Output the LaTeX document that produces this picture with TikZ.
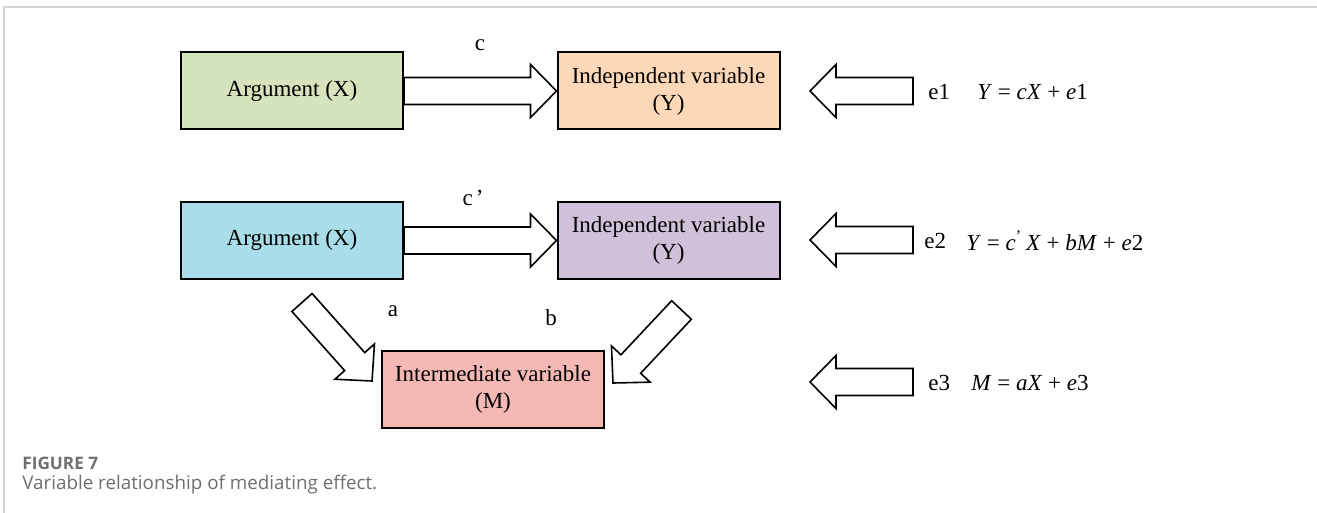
\documentclass[tikz,border=0pt]{standalone}
\usepackage{fontspec}
\setmainfont{Liberation Serif}
\newfontfamily\capfont{Open Sans}
\usetikzlibrary{calc}
\definecolor{cgreen}{HTML}{D6E4BE}
\definecolor{cpeach}{HTML}{FDD8B8}
\definecolor{ccyan}{HTML}{A8DDE9}
\definecolor{clilac}{HTML}{D0C1DB}
\definecolor{cpink}{HTML}{F4B8B5}
\definecolor{framegray}{HTML}{D2D2D2}
\definecolor{capgray}{HTML}{6E6E6E}
\newcommand{\blockarrow}[2]{%
  \coordinate (bh) at ($(#2)!13pt!(#1)$);
  \draw[blk] ($(#1)!6.75pt!90:(#2)$) -- ($(bh)!6.75pt!90:(#2)$) -- ($(bh)!13.25pt!90:(#2)$) -- (#2)
    -- ($(bh)!13.25pt!-90:(#2)$) -- ($(bh)!6.75pt!-90:(#2)$) -- ($(#1)!6.75pt!-90:(#2)$) -- cycle;}
\begin{document}
\begin{tikzpicture}[x=0.5pt,y=-0.5pt,
  box/.style={draw=black,line width=1pt,minimum width=111pt,minimum height=38.5pt,inner sep=0pt,align=center,font=\fontsize{11.5}{13.5}\selectfont},
  blk/.style={draw=black,line width=0.8pt,fill=white,line join=miter},
  lbl/.style={font=\fontsize{11.5}{13.5}\selectfont,inner sep=0pt}]
\useasboundingbox (0,0) rectangle (1317,513);
\draw[framegray,line width=1pt] (4,513) -- (4,7.5) -- (1317,7.5);
% boxes
\node[box,fill=cgreen] (x1) at (292,91) {Argument (X)};
\node[box,fill=cpeach] (y1) at (668.5,91) {Independent variable\\(Y)};
\node[box,fill=ccyan] (x2) at (292,240.5) {Argument (X)};
\node[box,fill=clilac] (y2) at (668.5,240.5) {Independent variable\\(Y)};
\node[box,fill=cpink] (m) at (493,389.5) {Intermediate variable\\(M)};
% main arrows
\blockarrow{x1.east}{y1.west}
\blockarrow{x2.east}{y2.west}
\coordinate (at) at (302,302.5);
\coordinate (ah) at (372,381);
\blockarrow{at}{ah}
\coordinate (bt) at (681.5,310);
\coordinate (bhd) at (613,383);
\blockarrow{bt}{bhd}
% path labels
\node[lbl] (lc) at (480,45) {c};
\node[lbl] (lcp) at (473,198) {c\kern1.5pt’};
\node[lbl] (la) at (393,311) {a};
\node[lbl] (lb) at (551,318) {b};
% error arrows
\coordinate (t1) at (913,91); \coordinate (h1) at (810,91);
\coordinate (t2) at (913,240); \coordinate (h2) at (810,240);
\coordinate (t3) at (913,382); \coordinate (h3) at (810,382);
\blockarrow{t1}{h1}
\blockarrow{t2}{h2}
\blockarrow{t3}{h3}
\node[lbl,anchor=west] (e1) at (928,92) {e1};
\node[lbl,anchor=west] (eq1) at (977,92) {\textit{Y} = \textit{cX} + \textit{e}1};
\node[lbl,anchor=west] (e2) at (924,241) {e2};
\node[lbl,anchor=west] (eq2) at (966,241) {\textit{Y} = \textit{c}\textsuperscript{'}\,\textit{X} + \textit{bM} + \textit{e}2};
\node[lbl,anchor=west] (e3) at (928,383) {e3};
\node[lbl,anchor=west] (eq3) at (971,383) {\textit{M} = \textit{aX} + \textit{e}3};
% caption
\node[anchor=base west,inner sep=0pt,text=capgray,font=\capfont\bfseries\fontsize{8.6}{10}\selectfont] (fig) at (22,469) {FIGURE 7};
\node[anchor=base west,inner sep=0pt,text=capgray,font=\capfont\fontsize{9.4}{11}\selectfont] (cap) at (22,489) {Variable relationship of mediating effect.};
\end{tikzpicture}
\end{document}
